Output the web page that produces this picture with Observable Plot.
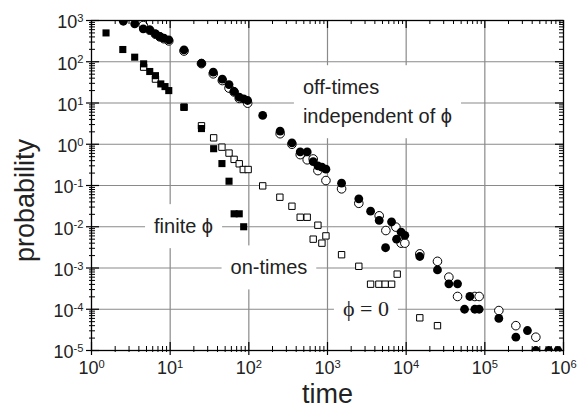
<!DOCTYPE html>
<html>
<head>
<meta charset="utf-8">
<script src="https://cdn.jsdelivr.net/npm/d3@7"></script>
<script src="https://cdn.jsdelivr.net/npm/@observablehq/plot@0.6"></script>
<style>
  html, body { margin: 0; padding: 0; background: #fff; }
  #chart svg { display: block; }
</style>
</head>
<body>
<div id="chart"></div>
<script>
// Off-times, finite phi: [time, probability]
const offFinite = [
  [2.54, 960], [3.54, 830], [4.55, 628], [5.5, 594], [6.5, 475], [7.4, 409], [8.3, 372], [9.6, 339],
  [15, 195], [25, 92], [35.3, 56], [46, 38], [56, 28], [65, 19], [75.5, 13.8], [86, 12.6], [96.6, 11.5],
  [150, 5.0], [250, 2.07], [353, 1.08], [450, 0.65], [552, 0.65], [658, 0.38], [755, 0.30], [849, 0.278],
  [955, 0.249], [1510, 0.114], [2500, 0.0475], [3530, 0.0238], [4540, 0.0142], [5470, 0.0031],
  [6520, 0.0132], [7550, 0.005], [8630, 0.0074], [9620, 0.0062], [14900, 0.0019], [25000, 0.0009],
  [34900, 0.000414], [45000, 0.000414], [55200, 0.0001], [64500, 0.000204], [74600, 0.0001],
  [84700, 0.0001], [150700, 6e-5], [248000, 2.1e-5], [348000, 3.05e-5], [445000, 1e-5],
  [650000, 1e-5], [847000, 1e-5]
];

// Off-times, phi = 0
const offZero = [
  [4.55, 757], [5.5, 580], [6.5, 465], [7.4, 400], [8.3, 362], [9.6, 320], [15, 182], [25, 90],
  [35.3, 51], [46, 35], [56, 23], [65, 18.5], [75.5, 12.9], [96.6, 9.9], [250, 1.8], [353, 1.0],
  [450, 0.56], [552, 0.42], [658, 0.44], [755, 0.23], [955, 0.132], [1510, 0.083], [2500, 0.037],
  [4540, 0.0184], [5520, 0.0081], [7400, 0.0098], [8630, 0.004], [9620, 0.004], [14900, 0.0022],
  [25000, 0.00145], [34900, 0.0006], [45000, 0.000204], [74600, 0.000204], [84700, 0.000204],
  [150700, 9.3e-5], [248000, 4e-5], [445000, 2.1e-5]
];

// On-times, finite phi
const onFinite = [
  [1.53, 500], [2.5, 198], [3.54, 129], [4.6, 89], [5.5, 58], [6.5, 46], [7.6, 29], [8.6, 25],
  [9.6, 20], [15, 7.9], [25, 2.4], [35.7, 0.78], [45.5, 0.34], [56, 0.127], [65, 0.0206],
  [75.5, 0.0206], [86, 0.01]
];

// On-times, phi = 0
const onZero = [
  [4.6, 74], [6.5, 38], [15, 7.9], [25, 2.8], [35.7, 1.43], [45.5, 0.85], [56, 0.61], [65, 0.43],
  [75.5, 0.336], [85, 0.244], [98, 0.244], [150, 0.098], [248, 0.052], [353, 0.0314], [450, 0.017],
  [552, 0.017], [658, 0.005], [755, 0.0109], [849, 0.004], [955, 0.006], [1510, 0.0021],
  [2500, 0.0011], [3530, 0.000405], [4500, 0.000405], [5410, 0.000405], [6530, 0.000405],
  [7690, 0.00071], [14900, 6.2e-5], [25000, 4e-5]
];

// Decade ticks and their exponent labels
const xDecades = [1, 10, 100, 1e3, 1e4, 1e5, 1e6];
const xExponents = ["0", "1", "2", "3", "4", "5", "6"];
const yDecades = [1e-5, 1e-4, 1e-3, 1e-2, 1e-1, 1, 10, 100, 1000];
const yExponents = ["-5", "-4", "-3", "-2", "-1", "0", "1", "2", "3"];

// In-plot annotations
const offNote = ["off-times\nindependent of \u03d5"];
const offNoteAt = [[487, 12.2]];
const onNotes = ["finite \u03d5", "on-times"];
const onNotesAt = [[14.8, 0.01], [180, 0.001]];
const mathNote = ["\u03d5 = 0"];
const mathNoteAt = [[3080, 1e-4]];

const W = 577, H = 412;
const mL = 91, mR = 14, mT = 20, mB = 62;
const plotW = W - mL - mR, plotH = H - mT - mB;

const minors = (decades) => decades.slice(0, -1).flatMap(d => d3.range(2, 10).map(m => m * d));
const xMinor = minors(xDecades);
const yMinor = minors(yDecades);

const label = (texts, at) => texts.map((text, i) => ({text, t: at[i][0], p: at[i][1]}));
const pt = (d) => ({t: d[0], p: d[1]});
const sym = {x: "t", y: "p", clip: true};
const ink = "#222";

const chart = Plot.plot({
  width: W, height: H,
  marginLeft: mL, marginRight: mR, marginTop: mT, marginBottom: mB,
  style: {fontFamily: "'Liberation Sans', Arial, sans-serif", background: "#fff", color: ink},
  x: {type: "log", domain: [1, 1e6], axis: null},
  y: {type: "log", domain: [1e-5, 1e3], axis: null},
  marks: [
    // decade grid
    Plot.ruleX(xDecades.slice(1, -1), {stroke: "#8a8a8a", strokeWidth: 1.2}),
    Plot.ruleY(yDecades.slice(1, -1), {stroke: "#8a8a8a", strokeWidth: 1.2}),

    // annotation labels (white boxes are slipped in behind them after render)
    Plot.text(label(offNote, offNoteAt), {x: "t", y: "p", text: "text", textAnchor: "start",
      fontSize: 20, lineHeight: 1.45, fill: ink}),
    Plot.text(label(onNotes, onNotesAt), {x: "t", y: "p", text: "text", textAnchor: "middle",
      fontSize: 20, fill: ink}),
    Plot.text(label(mathNote, mathNoteAt), {x: "t", y: "p", text: "text", textAnchor: "middle",
      fontSize: 22, fill: ink, fontFamily: "'Liberation Serif', 'DejaVu Serif', serif"}),

    // data
    Plot.dot(offZero.map(pt), {...sym, r: 4.3, fill: "#fff", stroke: "#000", strokeWidth: 1}),
    Plot.dot(onZero.map(pt), {...sym, symbol: "square", r: 3.6, fill: "#fff", stroke: "#000", strokeWidth: 1}),
    Plot.dot(offFinite.map(pt), {...sym, r: 4.4, fill: "#000"}),
    Plot.dot(onFinite.map(pt), {...sym, symbol: "square", r: 4.0, fill: "#000"}),

    // frame and ticks on all four sides
    Plot.frame({stroke: "#000", strokeWidth: 1.3}),
    Plot.tickX(xDecades, {x: d => d, insetTop: plotH - 8, insetBottom: -5, stroke: "#000", strokeWidth: 1.2}),
    Plot.tickX(xMinor, {x: d => d, insetTop: plotH - 4, insetBottom: -2, stroke: "#000"}),
    Plot.tickX(xDecades, {x: d => d, insetBottom: plotH - 8, stroke: "#000", strokeWidth: 1.2}),
    Plot.tickX(xMinor, {x: d => d, insetBottom: plotH - 4, stroke: "#000"}),
    Plot.tickY(yDecades, {y: d => d, insetRight: plotW - 8, insetLeft: -5, stroke: "#000", strokeWidth: 1.2}),
    Plot.tickY(yMinor, {y: d => d, insetRight: plotW - 4, insetLeft: -2, stroke: "#000"}),
    Plot.tickY(yDecades, {y: d => d, insetLeft: plotW - 8, stroke: "#000", strokeWidth: 1.2}),
    Plot.tickY(yMinor, {y: d => d, insetLeft: plotW - 4, stroke: "#000"}),

    // tick labels written as 10^n
    Plot.text(xDecades, {x: d => d, text: (d, i) => `10^${xExponents[i]}`, frameAnchor: "bottom",
      textAnchor: "middle", lineAnchor: "middle", dy: 18, fontSize: 18, fill: ink}),
    Plot.text(yDecades, {y: d => d, text: (d, i) => `10^${yExponents[i]}`, frameAnchor: "left",
      textAnchor: "end", lineAnchor: "middle", dx: -8, dy: 2, fontSize: 18, fill: ink}),

    // axis titles
    Plot.text(["time"], {frameAnchor: "bottom", textAnchor: "middle", lineAnchor: "middle",
      dy: 44, fontSize: 27, fill: ink}),
    Plot.text(["probability"], {frameAnchor: "left", textAnchor: "middle", lineAnchor: "middle",
      dx: -66, dy: 15, rotate: -90, fontSize: 27, fill: ink})
  ]
});

document.getElementById("chart").append(chart);

const NS = "http://www.w3.org/2000/svg";
const texts = Array.from(chart.querySelectorAll("text"));

// superscript exponents
for (const t of texts) {
  if (!t.textContent.includes("^")) continue;
  const [base, exp] = t.textContent.split("^");
  t.textContent = base;
  const s = document.createElementNS(NS, "tspan");
  s.setAttribute("dy", "-0.55em");
  s.setAttribute("font-size", "0.62em");
  s.textContent = exp;
  t.append(s);
}

// white boxes behind annotations, interrupting the grid
const boxed = new Set([...offNote, ...onNotes, ...mathNote].map(s => s.replace(/\n/g, "")));
for (const t of texts) {
  if (!boxed.has(t.textContent.replace(/\n/g, ""))) continue;
  const b = t.getBBox();
  const padX = 9, padY = 11;
  const r = document.createElementNS(NS, "rect");
  r.setAttribute("x", b.x - padX);
  r.setAttribute("y", b.y - padY);
  r.setAttribute("width", b.width + 2 * padX);
  r.setAttribute("height", b.height + 2 * padY);
  r.setAttribute("fill", "#fff");
  if (t.getAttribute("transform")) r.setAttribute("transform", t.getAttribute("transform"));
  t.parentNode.insertBefore(r, t);
}
</script>
</body>
</html>
